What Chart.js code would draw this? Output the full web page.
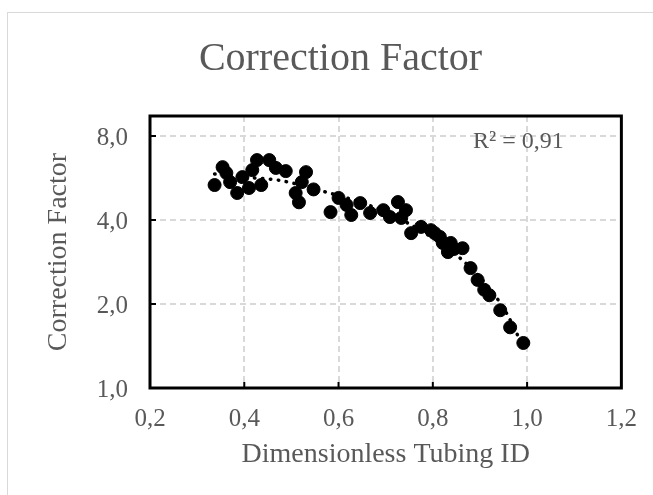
<!DOCTYPE html>
<html lang="en">
<head>
  <meta charset="utf-8">
  <title>Correction Factor</title>
  <script src="https://cdn.jsdelivr.net/npm/chart.js"></script>
  <style>
    html, body {
      margin: 0;
      padding: 0;
      background: #ffffff;
      overflow: hidden;
    }
    .frame {
      position: absolute;
      left: 7px;
      top: 12px;
      width: 700px;
      height: 600px;
      border: 1px solid #d9d9d9;
    }
    #chart {
      position: absolute;
      left: 0;
      top: 0;
    }
  </style>
</head>
<body>
  <div class="frame"></div>
  <canvas id="chart" width="653" height="495"></canvas>

  <script>
    // measured points (dimensionless tubing ID vs correction factor)
    const tubingId = [0.337, 0.354, 0.362, 0.370, 0.385, 0.396, 0.410, 0.417, 0.427, 0.436,
                      0.453, 0.467, 0.488, 0.509, 0.516, 0.522, 0.531, 0.547, 0.583, 0.600,
                      0.617, 0.627, 0.646, 0.667, 0.695, 0.709, 0.726, 0.733, 0.743, 0.754,
                      0.775, 0.796, 0.804, 0.815, 0.821, 0.832, 0.838, 0.845, 0.863, 0.880,
                      0.895, 0.909, 0.920, 0.943, 0.964, 0.992];
    const correction = [5.34, 6.19, 5.90, 5.47, 5.00, 5.70, 5.21, 6.04, 6.56, 5.34,
                        6.56, 6.15, 5.99, 5.00, 4.63, 5.47, 5.94, 5.15, 4.27, 4.80,
                        4.53, 4.17, 4.60, 4.24, 4.34, 4.10, 4.64, 4.07, 4.34, 3.59,
                        3.78, 3.68, 3.59, 3.48, 3.31, 3.07, 3.31, 3.15, 3.17, 2.69,
                        2.44, 2.25, 2.15, 1.90, 1.65, 1.45];

    // trendline
    const trendX = [0.337, 0.421, 0.472, 0.573, 0.669, 0.747, 0.863, 0.943, 0.962, 0.992];
    const trendY = [5.85, 5.66, 5.56, 5.04, 4.49, 3.90, 2.87, 2.02, 1.78, 1.40];
    const rSquared = 'R² = 0,91';

    const xTicks = [0.2, 0.4, 0.6, 0.8, 1.0, 1.2];
    const yTicks = [1, 2, 4, 8];

    const grey = '#595959';
    const serif = "'Liberation Serif', 'DejaVu Serif', serif";
    const comma = v => Number(v).toFixed(1).replace('.', ',');

    const toPoints = (xs, ys) => xs.map((x, i) => ({ x: x, y: ys[i] }));

    // black box, inner tick marks and the R² label
    const framePlugin = {
      id: 'frame',
      afterDraw(chart) {
        const { ctx, chartArea: a, scales } = chart;
        ctx.save();
        ctx.strokeStyle = '#000';
        ctx.lineWidth = 2;
        ctx.beginPath();
        xTicks.slice(1, -1).forEach(v => {
          const px = scales.x.getPixelForValue(v);
          ctx.moveTo(px, a.bottom);
          ctx.lineTo(px, a.bottom - 6);
        });
        yTicks.slice(1).forEach(v => {
          const py = scales.y.getPixelForValue(v);
          ctx.moveTo(a.left, py);
          ctx.lineTo(a.left + 6, py);
        });
        ctx.stroke();
        ctx.lineWidth = 3;
        ctx.strokeRect(a.left, a.top, a.right - a.left, a.bottom - a.top);

        ctx.fillStyle = grey;
        ctx.font = '24px ' + serif;
        ctx.textBaseline = 'alphabetic';
        ctx.fillText(rSquared, 473, 148);
        ctx.restore();
      }
    };

    new Chart(document.getElementById('chart'), {
      type: 'scatter',
      data: {
        datasets: [{
          label: 'Data',
          data: toPoints(tubingId, correction),
          backgroundColor: '#000',
          borderColor: '#000',
          pointRadius: 6.5,
          pointHoverRadius: 6.5,
        }, {
          label: 'Trend',
          type: 'line',
          data: toPoints(trendX, trendY),
          borderColor: '#000',
          borderWidth: 3.5,
          borderDash: [0.5, 7.5],
          borderCapStyle: 'round',
          pointRadius: 0,
          cubicInterpolationMode: 'monotone',
          fill: false,
        }],
      },
      options: {
        responsive: false,
        animation: false,
        layout: { padding: { left: 28, right: 0, top: 0, bottom: 0 } },
        plugins: {
          legend: { display: false },
          tooltip: { enabled: false },
          title: {
            display: true,
            text: 'Correction Factor',
            color: grey,
            font: { family: serif, size: 40, weight: 'normal', lineHeight: 1.2 },
            padding: { top: 35, bottom: 33 },
          },
        },
        scales: {
          x: {
            type: 'linear',
            min: 0.2,
            max: 1.2,
            afterBuildTicks: s => { s.ticks = xTicks.map(v => ({ value: v })); },
            afterFit: s => { s.height = 107; },
            ticks: {
              color: grey,
              padding: 16,
              font: { family: serif, size: 25 },
              callback: v => comma(v),
            },
            grid: { color: '#d9d9d9', lineWidth: 2, drawTicks: false },
            border: { display: false, dash: [6, 4] },
            title: {
              display: true,
              text: 'Dimensionless Tubing ID',
              color: grey,
              font: { family: serif, size: 28, lineHeight: 1.2 },
              padding: { top: 24, bottom: 24 },
            },
          },
          y: {
            type: 'logarithmic',
            min: 1,
            max: 9.44,
            afterBuildTicks: s => { s.ticks = yTicks.map(v => ({ value: v })); },
            afterFit: s => { s.width = 122; },
            ticks: {
              color: grey,
              padding: 22,
              labelOffset: 2,
              font: { family: serif, size: 25 },
              callback: v => comma(v),
            },
            grid: { color: '#d9d9d9', lineWidth: 2, drawTicks: false },
            border: { display: false, dash: [6, 4] },
            title: {
              display: true,
              text: 'Correction Factor',
              color: grey,
              font: { family: serif, size: 28, lineHeight: 1.2 },
              padding: { top: 14, bottom: 14 },
            },
          },
          y2: {
            type: 'linear',
            position: 'right',
            afterFit: s => { s.width = 28; },
            ticks: { display: false },
            grid: { display: false },
            border: { display: false },
          },
        },
      },
      plugins: [framePlugin],
    });
  </script>
</body>
</html>
